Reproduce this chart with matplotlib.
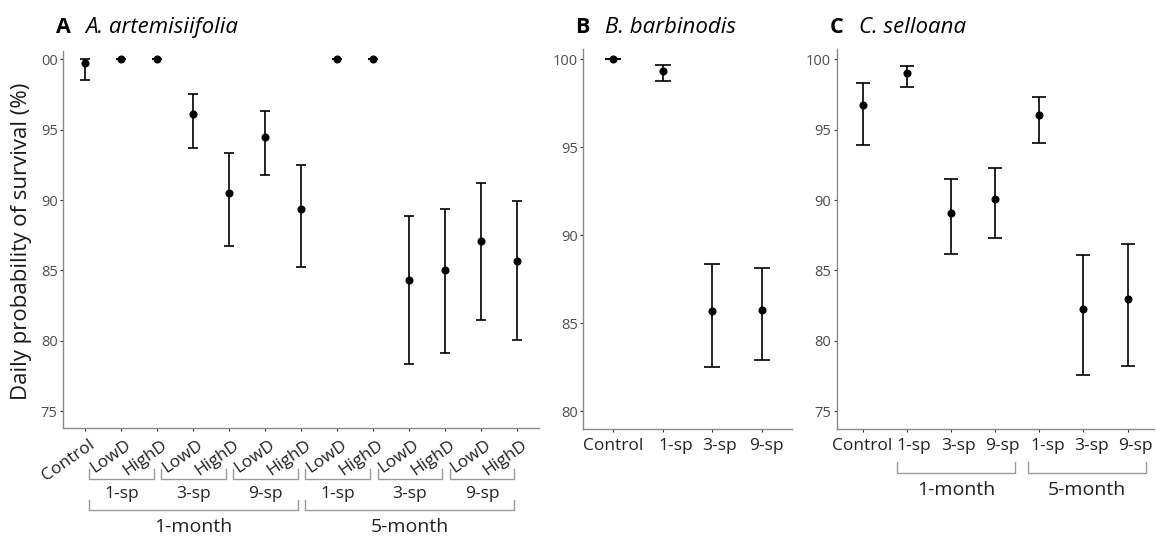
import matplotlib
matplotlib.use("Agg")
import matplotlib.pyplot as plt
from matplotlib.transforms import ScaledTranslation

plt.rcParams['font.family'] = ['Open Sans', 'DejaVu Sans']

# panel A - A. artemisiifolia
a_labels = ["Control", "LowD", "HighD", "LowD", "HighD", "LowD", "HighD",
            "LowD", "HighD", "LowD", "HighD", "LowD", "HighD"]
a_mean = [99.76, 100, 100, 96.08, 90.52, 94.46, 89.36, 100, 100, 84.33, 85.00, 87.08, 85.70]
a_low = [98.51, 100, 100, 93.73, 86.77, 91.75, 85.27, 100, 100, 78.34, 79.17, 81.45, 80.05]
a_high = [100.0, 100, 100, 97.57, 93.35, 96.34, 92.52, 100, 100, 88.90, 89.34, 91.19, 89.95]
a_sp = ["1-sp", "3-sp", "9-sp", "1-sp", "3-sp", "9-sp"]
a_month = ["1-month", "5-month"]

# panel B - B. barbinodis
b_labels = ["Control", "1-sp", "3-sp", "9-sp"]
b_mean = [100, 99.34, 85.72, 85.74]
b_low = [100, 98.75, 82.52, 82.92]
b_high = [100, 99.68, 88.40, 88.13]

# panel C - C. selloana
c_labels = ["Control", "1-sp", "3-sp", "9-sp", "1-sp", "3-sp", "9-sp"]
c_mean = [96.77, 98.99, 89.10, 90.05, 96.01, 82.24, 83.00]
c_low = [93.92, 98.00, 86.18, 87.31, 94.08, 77.55, 78.21]
c_high = [98.33, 99.50, 91.53, 92.29, 97.33, 86.11, 86.89]
c_month = ["1-month", "5-month"]

W, H = 1158, 537
fig = plt.figure(figsize=(W / 100, H / 100), dpi=100)


def box(l, t, r, b):
    return [l / W, 1 - b / H, (r - l) / W, (b - t) / H]


axA = fig.add_axes(box(63.3, 51, 539, 428))
axB = fig.add_axes(box(583.3, 49, 792, 428.7))
axC = fig.add_axes(box(836.7, 49, 1154, 428.7))

spine_col = "#8a8a8a"
txt_col = "#4d4d4d"


def draw(ax, labels, mean, low, high, ylim, yticks, yticklabels, cap):
    x = list(range(len(labels)))
    err = [[m - l for m, l in zip(mean, low)], [h - m for m, h in zip(mean, high)]]
    ax.errorbar(x, mean, yerr=err, fmt="o", color="black", ms=4.8,
                elinewidth=1.2, capsize=cap, capthick=1.2)
    ax.set_xlim(-0.6, len(labels) - 0.4)
    ax.set_ylim(*ylim)
    ax.set_yticks(yticks)
    ax.set_yticklabels(yticklabels)
    ax.set_xticks(x)
    for s in ["top", "right"]:
        ax.spines[s].set_visible(False)
    for s in ["left", "bottom"]:
        ax.spines[s].set_color(spine_col)
        ax.spines[s].set_linewidth(1.0)
    ax.tick_params(axis="both", color="#333333", length=2.5, width=0.8)
    ax.tick_params(axis="y", labelsize=10.5, labelcolor=txt_col, pad=1.5)
    ax.tick_params(axis="x", labelsize=12.5, labelcolor="#222222", pad=4)
    return x


def shift_labels(ax, offsets):
    for lab, dx in zip(ax.get_xticklabels(), offsets):
        lab.set_transform(lab.get_transform() + ScaledTranslation(dx / 100, 0, fig.dpi_scale_trans))


draw(axA, a_labels, a_mean, a_low, a_high, (73.81, 100.59),
     [75, 80, 85, 90, 95, 100], ["75", "80", "85", "90", "95", "00"], 3.85)
axA.set_xticklabels(a_labels, rotation=35, ha="right", rotation_mode="anchor")
shift_labels(axA, [4] * len(a_labels))

draw(axB, b_labels, b_mean, b_low, b_high, (79.02, 100.585),
     [80, 85, 90, 95, 100], ["80", "85", "90", "95", "100"], 5.65)
axB.set_xticklabels(b_labels)
shift_labels(axB, [0, 13, 7, 4])

draw(axC, c_labels, c_mean, c_low, c_high, (73.76, 100.73),
     [75, 80, 85, 90, 95, 100], ["75", "80", "85", "90", "95", "100"], 4.75)
axC.set_xticklabels(c_labels)
shift_labels(axC, [-1, 7, 7, 7, 8, 8, 8])


def yfrac(ax, py):
    # pixel row (from top) -> axes fraction
    bb = ax.get_position()
    top = (1 - bb.y1) * H
    return 1 - (py - top) / (bb.height * H)


def bracket(ax, x0, x1, ytop, ybot, label, ytext, size):
    tr = ax.get_xaxis_transform()
    yt, yb = yfrac(ax, ytop), yfrac(ax, ybot)
    ax.plot([x0, x0, x1, x1], [yt, yb, yb, yt], color="#9a9a9a", lw=1.0,
            transform=tr, clip_on=False)
    ax.text((x0 + x1) / 2, yfrac(ax, ytext), label, transform=tr, ha="center",
            va="center", fontsize=size, color="#222222")


for k, lab in enumerate(a_sp):
    bracket(axA, 2 * k + 0.12, 2 * k + 1.92, 468.7, 478.7, lab, 493.7, 12.5)
for k, lab in enumerate(a_month):
    bracket(axA, 6 * k + 0.12, 6 * k + 5.9, 499.7, 510.3, lab, 527.5, 14)

bracket(axC, 0.76, 3.45, 462, 472.7, c_month[0], 490.3, 14)
bracket(axC, 3.75, 6.42, 462, 472.7, c_month[1], 490.3, 14)

# panel titles
for px, tag, name_px, name in [(56, "A", 85, "A. artemisiifolia"),
                                (574.7, "B", 605, "B. barbinodis"),
                                (829.7, "C", 859, "C. selloana")]:
    fig.text(px / W, 1 - 27.5 / H, tag, fontsize=15.5, fontweight="bold",
             ha="left", va="center")
    fig.text(name_px / W, 1 - 27.5 / H, name, fontsize=16, fontstyle="italic",
             ha="left", va="center")

fig.text(22 / W, 1 - 241 / H, "Daily probability of survival (%)", rotation=90,
         fontsize=16, ha="center", va="center", color="#1a1a1a")

fig.savefig("out.png", dpi=100, facecolor="white")
